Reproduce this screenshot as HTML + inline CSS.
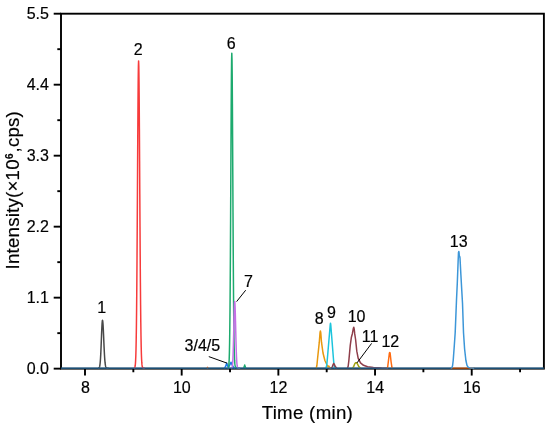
<!DOCTYPE html>
<html><head><meta charset="utf-8"><title>Chromatogram</title>
<style>
html,body{margin:0;padding:0;background:#fff;}
svg{display:block;font-family:"Liberation Sans",sans-serif;}
.ax line,.ax rect{stroke:#000;stroke-width:1.9;fill:none;}
.tk{font-size:16px;fill:#000;stroke:#000;stroke-width:0.18px;}
.pk{font-size:16px;fill:#000;stroke:#000;stroke-width:0.18px;}
.al{font-size:18.67px;fill:#000;stroke:#000;stroke-width:0.18px;}
.cv path{fill:none;stroke-width:1.5;stroke-linejoin:round;stroke-linecap:butt;}
.ld line{stroke:#000;stroke-width:1;}
</style></head><body>
<svg width="550" height="427" viewBox="0 0 550 427">
<rect x="0" y="0" width="550" height="427" fill="#fff"/>
<g class="ax">
<rect x="61.0" y="13.7" width="482.90" height="354.95"/>
<line x1="85.00" y1="368.65" x2="85.00" y2="375.55"/>
<line x1="181.68" y1="368.65" x2="181.68" y2="375.55"/>
<line x1="278.36" y1="368.65" x2="278.36" y2="375.55"/>
<line x1="375.04" y1="368.65" x2="375.04" y2="375.55"/>
<line x1="471.72" y1="368.65" x2="471.72" y2="375.55"/>
<line x1="133.34" y1="368.65" x2="133.34" y2="372.25"/>
<line x1="230.02" y1="368.65" x2="230.02" y2="372.25"/>
<line x1="326.70" y1="368.65" x2="326.70" y2="372.25"/>
<line x1="423.38" y1="368.65" x2="423.38" y2="372.25"/>
<line x1="520.06" y1="368.65" x2="520.06" y2="372.25"/>
<line x1="53.70" y1="368.65" x2="61.0" y2="368.65"/>
<line x1="53.70" y1="297.66" x2="61.0" y2="297.66"/>
<line x1="53.70" y1="226.67" x2="61.0" y2="226.67"/>
<line x1="53.70" y1="155.68" x2="61.0" y2="155.68"/>
<line x1="53.70" y1="84.69" x2="61.0" y2="84.69"/>
<line x1="53.70" y1="13.70" x2="61.0" y2="13.70"/>
<line x1="57.30" y1="333.15" x2="61.0" y2="333.15"/>
<line x1="57.30" y1="262.16" x2="61.0" y2="262.16"/>
<line x1="57.30" y1="191.17" x2="61.0" y2="191.17"/>
<line x1="57.30" y1="120.19" x2="61.0" y2="120.19"/>
<line x1="57.30" y1="49.19" x2="61.0" y2="49.19"/>
</g>
<clipPath id="cp"><rect x="61.0" y="0" width="482.90" height="368.75"/></clipPath>
<g class="cv" clip-path="url(#cp)">
<path d="M98.10,368.30 L98.30,368.26 L98.50,368.22 L98.70,368.15 L98.90,368.03 L99.10,367.82 L99.30,367.49 L99.50,366.97 L99.70,366.19 L99.90,365.06 L100.10,363.47 L100.30,361.33 L100.50,358.55 L100.70,355.11 L100.90,351.00 L101.10,346.32 L101.30,341.26 L101.50,336.08 L101.70,331.11 L101.90,326.72 L102.10,323.27 L102.30,321.06 L102.50,320.30 L102.70,320.91 L102.90,322.72 L103.10,325.58 L103.30,329.31 L103.50,333.64 L103.70,338.30 L103.90,343.00 L104.10,347.51 L104.30,351.66 L104.50,355.31 L104.70,358.41 L104.90,360.95 L105.10,362.97 L105.30,364.51 L105.50,365.66 L105.70,366.49 L105.90,367.07 L106.10,367.47 L106.30,367.74 L106.50,367.91 L106.70,368.03 L106.90,368.10 L107.10,368.15 L107.30,368.18 L107.50,368.20 L107.70,368.22 L107.90,368.23 L108.10,368.24 L108.30,368.25 L108.50,368.26 L108.70,368.30" stroke="#484848"/>
<path d="M133.80,368.30 L134.00,368.25 L134.20,368.20 L134.40,368.09 L134.60,367.89 L134.80,367.51 L135.00,366.85 L135.20,365.71 L135.40,363.83 L135.60,360.84 L135.80,356.26 L136.00,349.48 L136.20,339.85 L136.40,326.70 L136.60,309.43 L136.80,287.72 L137.00,261.57 L137.20,231.54 L137.40,198.76 L137.60,164.95 L137.80,132.33 L138.00,103.39 L138.20,80.57 L138.40,65.94 L138.60,60.90 L138.80,65.68 L139.00,79.62 L139.20,101.49 L139.40,129.40 L139.60,161.08 L139.80,194.16 L140.00,226.52 L140.20,256.46 L140.40,282.81 L140.60,304.96 L140.80,322.81 L141.00,336.61 L141.20,346.87 L141.40,354.22 L141.60,359.30 L141.80,362.69 L142.00,364.88 L142.20,366.24 L142.40,367.07 L142.60,367.56 L142.80,367.84 L143.00,368.01 L143.20,368.10 L143.40,368.16 L143.60,368.19 L143.80,368.21 L144.00,368.23 L144.20,368.24 L144.40,368.25 L144.60,368.26 L144.80,368.30" stroke="#F73B3B"/>
<path d="M224.40,368.30 L225.60,366.40 L226.70,363.20 L227.80,366.30 L228.70,366.90 L229.90,364.60 L231.00,362.30 L232.20,365.00 L233.50,367.40 L234.90,368.30" stroke="#1C78E8"/>
<path d="M227.40,368.30 L227.60,368.27 L227.80,368.22 L228.00,368.13 L228.20,367.93 L228.40,367.53 L228.60,366.78 L228.80,365.39 L229.00,362.98 L229.20,358.97 L229.40,352.59 L229.60,342.94 L229.80,329.03 L230.00,309.97 L230.20,285.19 L230.40,254.72 L230.60,219.41 L230.80,181.08 L231.00,142.49 L231.20,107.05 L231.40,78.38 L231.60,59.69 L231.80,53.20 L232.00,59.25 L232.20,76.77 L232.40,103.86 L232.60,137.66 L232.80,174.86 L233.00,212.25 L233.20,247.17 L233.40,277.76 L233.60,303.07 L233.80,322.92 L234.00,337.74 L234.20,348.29 L234.40,355.47 L234.60,360.17 L234.80,363.13 L235.00,364.93 L235.20,366.01 L235.40,366.66 L235.60,367.04 L235.80,367.29 L236.00,367.45 L236.20,367.58 L236.40,367.67 L236.60,367.75 L236.80,367.81 L237.00,367.87 L237.20,367.92 L237.40,367.97 L237.60,368.01 L237.80,368.04 L238.00,368.07 L238.20,368.10 L238.40,368.12 L238.60,368.14 L238.80,368.16 L239.00,368.18 L239.20,368.19 L239.40,368.20 L239.60,368.22 L239.80,368.23 L240.00,368.30 M243.60,368.30 L244.30,366.60 L244.70,365.00 L245.10,366.60 L245.80,368.30" stroke="#1DAA6E"/>
<path d="M231.10,368.30 L231.30,368.25 L231.50,368.18 L231.70,368.04 L231.90,367.77 L232.10,367.27 L232.30,366.39 L232.50,364.93 L232.70,362.64 L232.90,359.25 L233.10,354.52 L233.30,348.35 L233.50,340.80 L233.70,332.21 L233.90,323.23 L234.10,314.73 L234.30,307.69 L234.50,303.03 L234.70,301.40 L234.90,302.83 L235.10,306.95 L235.30,313.27 L235.50,321.05 L235.70,329.46 L235.90,337.73 L236.10,345.26 L236.30,351.66 L236.50,356.77 L236.70,360.62 L236.90,363.38 L237.10,365.24 L237.30,366.45 L237.50,367.20 L237.70,367.64 L237.90,367.90 L238.10,368.04 L238.30,368.12 L238.50,368.17 L238.70,368.20 L238.90,368.22 L239.10,368.23 L239.30,368.24 L239.50,368.25 L239.70,368.26 L239.90,368.26 L240.10,368.27 L240.30,368.30" stroke="#C56FE6"/>
<path d="M316.20,368.30 L316.90,365.50 L317.60,358.30 L319.30,342.20 L320.00,333.00 L320.40,330.90 L320.80,333.00 L321.50,342.20 L323.00,353.00 L324.90,360.50 L326.90,364.80 L328.00,366.60 L328.70,366.00 L329.60,367.50 L331.00,368.30" stroke="#E8980E"/>
<path d="M325.90,368.30 L326.70,365.40 L327.40,358.30 L330.20,325.20 L330.50,323.20 L330.80,325.20 L333.40,358.30 L334.00,365.40 L334.80,368.30" stroke="#1CC4DC"/>
<path d="M331.20,368.30 L332.40,366.60 L333.20,364.30 L333.70,363.50 L334.30,364.20 L335.30,366.60 L336.80,368.30 M347.50,368.30 L348.20,366.00 L348.85,360.60 L350.25,345.40 L351.40,337.20 L352.36,333.70 L353.30,328.60 L353.76,327.30 L354.20,329.00 L354.70,333.70 L355.60,339.50 L356.80,351.20 L358.20,358.30 L360.50,362.90 L363.50,365.30 L367.60,366.70 L373.40,367.50 L381.60,368.05 L388.00,368.30" stroke="#8E3E4A"/>
<path d="M352.40,368.30 L353.60,366.60 L354.80,363.80 L355.60,362.80 L356.60,362.80 L357.50,364.00 L358.80,366.60 L360.60,368.30" stroke="#A2A212"/>
<path d="M207.00,368.30 L207.50,367.30 L208.00,368.30 M387.50,368.30 L388.30,362.00 L389.40,353.00 L389.75,352.60 L390.10,353.00 L391.10,362.00 L392.10,368.30" stroke="#FF6A10"/>
<path d="M450.50,368.30 L474.50,368.30" stroke="#C8560E"/>
<path d="M61.00,368.30 L451.20,368.30 M473.50,368.30 L543.90,368.30" stroke="#27699A"/>
<path d="M450.80,368.30 L451.90,367.90 L452.60,365.50 L453.20,360.50 L454.20,347.00 L455.20,332.50 L456.50,300.00 L457.30,283.00 L458.10,262.00 L458.50,252.40 L458.80,251.40 L459.10,253.00 L459.30,256.60 L459.70,256.40 L460.00,258.00 L460.90,275.00 L461.80,291.00 L462.50,303.00 L463.50,332.50 L464.60,349.00 L465.90,360.50 L467.00,365.30 L468.30,367.40 L470.20,368.00 L474.00,368.30" stroke="#3C96D8"/>
</g>
<g class="tk">
<text x="85.50" y="393.0" text-anchor="middle">8</text>
<text x="181.78" y="393.0" text-anchor="middle">10</text>
<text x="278.46" y="393.0" text-anchor="middle">12</text>
<text x="375.14" y="393.0" text-anchor="middle">14</text>
<text x="471.82" y="393.0" text-anchor="middle">16</text>
<text x="48.9" y="373.55" text-anchor="end">0.0</text>
<text x="48.9" y="302.56" text-anchor="end">1.1</text>
<text x="48.9" y="231.57" text-anchor="end">2.2</text>
<text x="48.9" y="160.58" text-anchor="end">3.3</text>
<text x="48.9" y="89.59" text-anchor="end">4.4</text>
<text x="48.9" y="18.60" text-anchor="end">5.5</text>
</g>
<g class="ld">
<line x1="208.8" y1="356.6" x2="227.2" y2="363.2"/>
<line x1="245.7" y1="290.2" x2="236.6" y2="301.6"/>
<line x1="371.6" y1="343.4" x2="357.0" y2="362.9"/>
</g>
<g class="pk" text-anchor="middle">
<text x="101.75" y="313.4">1</text>
<text x="138.3" y="54.8">2</text>
<text x="202.4" y="351.3">3/4/5</text>
<text x="231.1" y="48.6">6</text>
<text x="248.5" y="286.6">7</text>
<text x="319.1" y="324.3">8</text>
<text x="331.4" y="318.4">9</text>
<text x="356.6" y="322.4">10</text>
<text x="370.0" y="342.0">11</text>
<text x="390.3" y="347.1">12</text>
<text x="458.7" y="246.9">13</text>
</g>
<g class="al">
<text x="307.4" y="418.7" text-anchor="middle" style="letter-spacing:0.3px">Time (min)</text>
<text transform="translate(19.1,190.2) rotate(-90)" text-anchor="middle" style="letter-spacing:0.22px">Intensity(×10<tspan style="font-size:10px;font-weight:bold;letter-spacing:0.8px" dx="0.3" dy="-6.0">6</tspan><tspan dy="6.0">,cps)</tspan></text>
</g>
</svg>
</body></html>
